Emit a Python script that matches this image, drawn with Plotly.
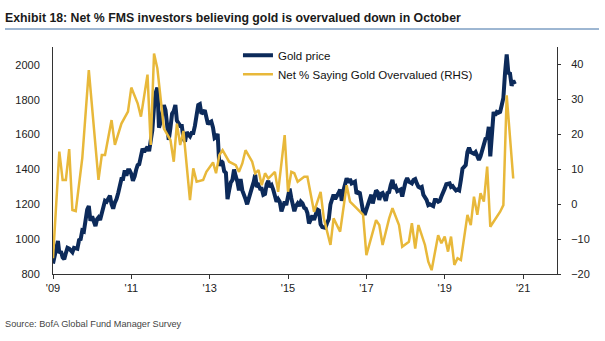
import plotly.graph_objects as go

# ---------------- data ----------------
# Gold price, two readings per month (1st and 16th), Jan 2009 - Oct 2020
gold_2009 = [860, 900, 940, 990, 920, 930, 895, 885, 920, 950, 945, 930,
             925, 950, 950, 945, 995, 1000, 1050, 1045, 1110, 1170, 1190, 1105]
gold_2010 = [1130, 1095, 1075, 1115, 1125, 1110, 1150, 1170, 1220, 1215, 1235, 1250,
             1200, 1175, 1210, 1230, 1265, 1300, 1345, 1345, 1395, 1365, 1395, 1395]
gold_2011 = [1375, 1335, 1360, 1400, 1425, 1430, 1470, 1520, 1500, 1520, 1530, 1505,
             1580, 1625, 1760, 1840, 1870, 1640, 1670, 1710, 1770, 1740, 1650, 1570]
gold_2012 = [1640, 1720, 1735, 1770, 1680, 1665, 1650, 1650, 1580, 1560, 1615, 1600,
             1590, 1610, 1610, 1650, 1730, 1770, 1775, 1720, 1730, 1740, 1700, 1660]
gold_2013 = [1670, 1675, 1640, 1580, 1585, 1605, 1420, 1450, 1440, 1390, 1380, 1230,
             1280, 1325, 1340, 1400, 1360, 1330, 1280, 1345, 1280, 1245, 1230, 1200]
gold_2014 = [1240, 1260, 1300, 1330, 1370, 1300, 1310, 1290, 1290, 1255, 1260, 1315,
             1335, 1300, 1310, 1285, 1240, 1215, 1230, 1215, 1160, 1190, 1215, 1195]
gold_2015 = [1240, 1290, 1235, 1205, 1160, 1190, 1205, 1190, 1215, 1205, 1180, 1175,
             1150, 1090, 1110, 1135, 1110, 1140, 1170, 1165, 1085, 1070, 1065, 1065]
gold_2016 = [1095, 1115, 1200, 1235, 1255, 1230, 1245, 1265, 1285, 1220, 1280, 1320,
             1350, 1325, 1345, 1320, 1325, 1330, 1260, 1270, 1265, 1190, 1160, 1140]
gold_2017 = [1180, 1200, 1230, 1255, 1205, 1245, 1280, 1270, 1225, 1260, 1265, 1245,
             1220, 1265, 1270, 1310, 1340, 1290, 1300, 1275, 1280, 1285, 1245, 1295]
gold_2018 = [1330, 1350, 1330, 1325, 1320, 1340, 1345, 1320, 1300, 1295, 1300, 1255,
             1240, 1225, 1195, 1200, 1195, 1190, 1225, 1225, 1215, 1220, 1245, 1275]
gold_2019 = [1290, 1315, 1320, 1320, 1300, 1305, 1290, 1280, 1285, 1280, 1340, 1405,
             1415, 1425, 1500, 1525, 1500, 1495, 1490, 1500, 1470, 1455, 1475, 1510]
gold_2020 = [1555, 1575, 1580, 1645, 1475, 1620, 1730, 1710, 1730, 1725, 1730, 1770,
             1810, 1950, 2060, 1955, 1950, 1880, 1910, 1890]

gold_years = [2009, 2010, 2011, 2012, 2013, 2014, 2015, 2016, 2017, 2018, 2019, 2020]
gold_by_year = [gold_2009, gold_2010, gold_2011, gold_2012, gold_2013, gold_2014,
                gold_2015, gold_2016, gold_2017, gold_2018, gold_2019, gold_2020]

gold_dates, gold_price = [], []
for yr, vals in zip(gold_years, gold_by_year):
    for i, v in enumerate(vals):
        m = i // 2 + 1
        d = 1 if i % 2 == 0 else 16
        gold_dates.append(f"{yr}-{m:02d}-{d:02d}")
        gold_price.append(v)

# Net % of FMS investors saying gold is overvalued (RHS)
fms_months = [
    "2009-01", "2009-03", "2009-04", "2009-05", "2009-06", "2009-07", "2009-08", "2009-10", "2009-12",
    "2010-03", "2010-04", "2010-05", "2010-07", "2010-08", "2010-10", "2010-12",
    "2011-01", "2011-03", "2011-04", "2011-06", "2011-07", "2011-08", "2011-09", "2011-11",
    "2012-01", "2012-02", "2012-03", "2012-04", "2012-05", "2012-07", "2012-08", "2012-09", "2012-11", "2012-12",
    "2013-02", "2013-03", "2013-04", "2013-05", "2013-07", "2013-09", "2013-10", "2013-11", "2013-12",
    "2014-02", "2014-03", "2014-04", "2014-05", "2014-06", "2014-07", "2014-09", "2014-10", "2014-12",
    "2015-01", "2015-02", "2015-03", "2015-04", "2015-06", "2015-07", "2015-09", "2015-11", "2015-12",
    "2016-02", "2016-03", "2016-05", "2016-07", "2016-08", "2016-10", "2016-12",
    "2017-01", "2017-03", "2017-04", "2017-05", "2017-06", "2017-08", "2017-09", "2017-11", "2017-12",
    "2018-02", "2018-03", "2018-04", "2018-05", "2018-07", "2018-08", "2018-09", "2018-10", "2018-11", "2018-12",
    "2019-01", "2019-02", "2019-03", "2019-04", "2019-05", "2019-06", "2019-07", "2019-08", "2019-09",
    "2019-10", "2019-11", "2019-12",
    "2020-01", "2020-02", "2020-03", "2020-06", "2020-07", "2020-08", "2020-10",
]
fms_net_overvalued = [
    -15.5, 15, 6.9, 6.9, 15.7, -1.7, -2, 13.1, 38.3,
    6.9, 14, 14, 24, 16.9, 23, 26.4,
    33.3, 28.8, 25, 37, 16.9, 43, 38.8, 21.6,
    18.3, 12.1, 23, 16.9, 20.9, 1.1, 10.2, 6.4, 6.9, 9.2,
    11.9, 8.8, 14, 15.4, 12.1, 11.1, 9.2, 11.6, 15.4,
    12.1, 8.8, 9.7, 5.4, 8.8, 7.3, 9.2, 3.5, 19.7,
    3.5, 9.2, 8.8, 6.4, 7.8, 7.8, -2.2, 3.5, -4.1,
    -11.7, -4.1, -7.9, 5.4, 0.7, -1.2, -3.1,
    -14.6, -7.9, -4.6, -6, -11.7, -4.1, -1.2, -6, -12.2,
    -10.8, -5.5, -12.7, -6, -11.7, -16.5, -18.9, -13.6, -8.9, -11.2,
    -9.3, -13.6, -9.3, -17.4, -15.5, -16, -9.8, -3.1, -6,
    2.1, -3.1, 3.1,
    0.7, 10.7, -6.5, -2.2, -0.3, 31.1, 7.3,
]

x_tick_vals = ["2009-01-01", "2011-01-01", "2013-01-01", "2015-01-01",
               "2017-01-01", "2019-01-01", "2021-01-01"]
x_tick_text = ["'09", "'11", "'13", "'15", "'17", "'19", "'21"]

title_text = "Exhibit 18: Net % FMS investors believing gold is overvalued down in October"
source_text = "Source: BofA Global Fund Manager Survey"

# ---------------- styles ----------------
NAVY = "#0c2a5a"
GOLD = "#e8b83a"
AXIS = "#333333"
TICKFONT = dict(family="Liberation Sans, Arial, sans-serif", size=11, color="#222222")
SANS = "Liberation Sans, Arial, sans-serif"

fig = go.Figure()
fig.add_trace(go.Scatter(
    x=gold_dates, y=gold_price, name="Gold price", mode="lines",
    line=dict(color=NAVY, width=4), yaxis="y",
))
fig.add_trace(go.Scatter(
    x=[m + "-01" for m in fms_months], y=fms_net_overvalued,
    name="Net % Saying Gold Overvalued (RHS)", mode="lines",
    line=dict(color=GOLD, width=2.5), yaxis="y2",
))

fig.update_layout(
    width=605, height=341,
    margin=dict(l=53, r=48, t=47, b=67),
    paper_bgcolor="white", plot_bgcolor="white",
    showlegend=True,
    legend=dict(
        x=0.367, y=1.028, xanchor="left", yanchor="top",
        bgcolor="rgba(0,0,0,0)", borderwidth=0,
        font=dict(family=SANS, size=11.5, color="#111111"),
        tracegroupgap=0, itemwidth=30,
    ),
    xaxis=dict(
        type="date", range=["2009-01-01", "2021-11-13"],
        tickvals=x_tick_vals, ticktext=x_tick_text,
        showgrid=False, zeroline=False,
        showline=True, linecolor=AXIS, linewidth=1,
        ticks="outside", ticklen=4, tickcolor=AXIS,
        tickfont=TICKFONT,
    ),
    yaxis=dict(
        range=[800, 2103], tickvals=[800, 1000, 1200, 1400, 1600, 1800, 2000],
        showgrid=False, zeroline=False,
        showline=True, linecolor=AXIS, linewidth=1,
        ticks="", ticklabelstandoff=10,
        tickfont=TICKFONT,
    ),
    yaxis2=dict(
        range=[-20, 44.9], tickvals=[-20, -10, 0, 10, 20, 30, 40],
        overlaying="y", side="right",
        showgrid=False, zeroline=False,
        showline=True, linecolor=AXIS, linewidth=1,
        ticks="outside", ticklen=3, tickcolor=AXIS,
        ticklabelstandoff=8,
        tickfont=TICKFONT,
    ),
)

fig.add_annotation(
    text=f"<b>{title_text}</b>", xref="paper", yref="paper",
    x=-50 / 504, y=1 + (47 - 18) / 227, xanchor="left", yanchor="middle",
    showarrow=False, font=dict(family=SANS, size=12.3, color="#1a1a1a"),
)
fig.add_shape(
    type="line", xref="paper", yref="paper",
    x0=-48 / 504, x1=(599 - 53) / 504,
    y0=1 + (47 - 29) / 227, y1=1 + (47 - 29) / 227,
    line=dict(color="#3d6fa5", width=1),
)
fig.add_annotation(
    text=source_text, xref="paper", yref="paper",
    x=-50 / 504, y=-(324 - 274) / 227, xanchor="left", yanchor="middle",
    showarrow=False, font=dict(family=SANS, size=9.2, color="#444444"),
)

fig.write_html("out.html")
